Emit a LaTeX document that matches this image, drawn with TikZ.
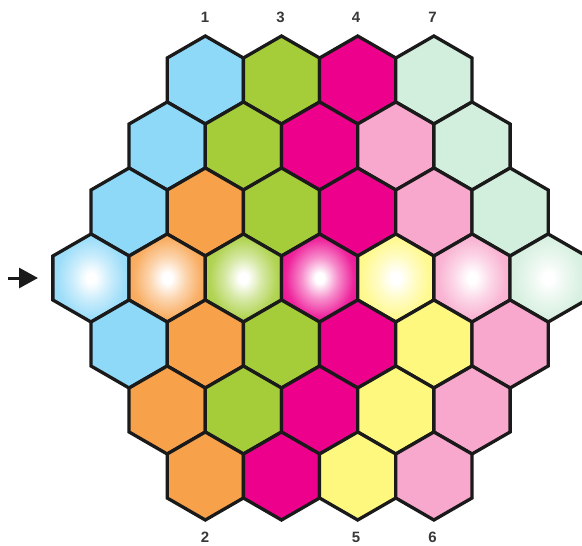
\documentclass[tikz,border=0pt]{standalone}
\usepackage{fontspec}
\setmainfont{Liberation Sans}
\usetikzlibrary{shapes.geometric,arrows.meta}
\definecolor{cB}{HTML}{8ED8F8}
\definecolor{cG}{HTML}{A5CD39}
\definecolor{cM}{HTML}{EC008C}
\definecolor{cP}{HTML}{D2EEDC}
\definecolor{cK}{HTML}{F8A8CC}
\definecolor{cO}{HTML}{F8A14B}
\definecolor{cY}{HTML}{FFF87F}
\definecolor{edge}{HTML}{1A1A1A}
\definecolor{glowc}{HTML}{8ED8F8}
\pgfdeclareradialshading[glowc]{glowshade}{\pgfpoint{0bp}{0bp}}{color(0bp)=(white);color(3bp)=(white);color(12bp)=(glowc!45!white);color(22bp)=(glowc!85!white);color(32bp)=(glowc);color(50bp)=(glowc)}
\tikzset{
  hexbase/.style={regular polygon, regular polygon sides=6, shape border rotate=30,
    minimum size=88pt, inner sep=0pt, outer sep=0pt, draw=edge, line width=3.3pt, line join=miter},
  hexa/.style={hexbase, fill=#1},
  hexglow/.style={hexbase, /utils/exec={\colorlet{glowc}{#1}}, shading=glowshade},
  lab/.style={font=\fontsize{15}{18}\selectfont\bfseries, text=black!78, inner sep=0pt},
  pointer/.style={line width=3pt, draw=edge, -{Triangle[length=19pt,width=20pt]}}
}
\begin{document}
\begin{tikzpicture}[x=1pt,y=-1pt]
\useasboundingbox (0,0) rectangle (582,546);
\clip (0,0) rectangle (582,546);
\foreach \r/\cols in {0/{cB,cG,cM,cP},1/{cB,cG,cM,cK,cP},2/{cB,cO,cG,cM,cK,cP}}{
  \pgfmathsetmacro\xo{91+abs(\r-3)*38.1}
  \foreach \c [count=\i from 0] in \cols {
    \node[hexa=\c] (h-\r-\i) at ({\xo+76.2*\i},{80+66*\r}) {};
  }
}
\foreach \c [count=\i from 0] in {cB,cO,cG,cM,cY,cK,cP} {
  \node[hexglow=\c] (h-3-\i) at ({91+76.2*\i},278) {};
}
\foreach \r/\cols in {4/{cB,cO,cG,cM,cY,cK},5/{cO,cG,cM,cY,cK},6/{cO,cM,cY,cK}}{
  \pgfmathsetmacro\xo{91+abs(\r-3)*38.1}
  \foreach \c [count=\i from 0] in \cols {
    \node[hexa=\c] (h-\r-\i) at ({\xo+76.2*\i},{80+66*\r}) {};
  }
}
\node[lab] (l1) at (205,17) {1};
\node[lab] (l3) at (280.5,17) {3};
\node[lab] (l4) at (356,17) {4};
\node[lab] (l7) at (432.5,17) {7};
\node[lab] (l2) at (205,537) {2};
\node[lab] (l5) at (356,537) {5};
\node[lab] (l6) at (432.5,537) {6};
\coordinate (as) at (8,278);
\coordinate (ae) at (38,278);
\draw[pointer] (as) -- (ae);
\end{tikzpicture}
\end{document}
